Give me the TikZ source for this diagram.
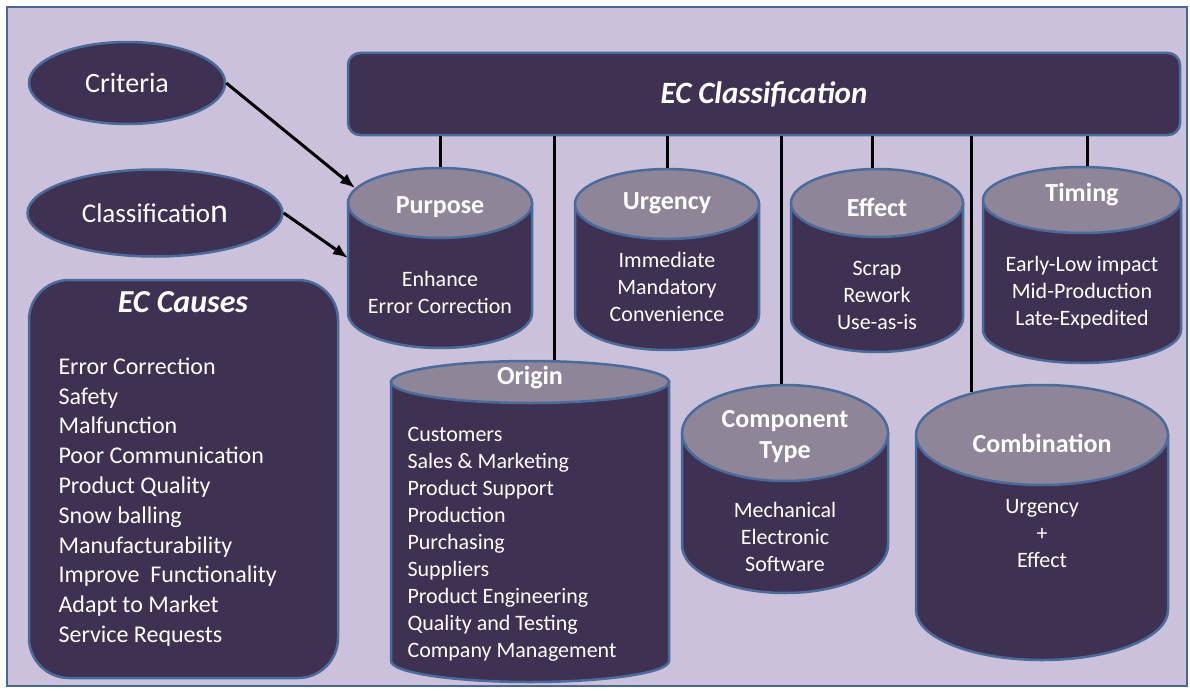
\documentclass[tikz,border=0pt]{standalone}
\usepackage{fontspec}
\setmainfont{Carlito}
\usepackage{tikz}
\usetikzlibrary{shapes.geometric,arrows.meta}
\definecolor{lavender}{HTML}{CCC1DA}
\definecolor{plum}{HTML}{3F3151}
\definecolor{rim}{HTML}{4A6B9B}
\definecolor{lidgrey}{HTML}{8F8599}
\definecolor{framecol}{HTML}{4A6794}
\tikzset{box/.style={draw=rim, line width=2.5pt, fill=plum, text=white}}
\tikzset{oval/.style={box, ellipse, inner sep=0pt}}
\tikzset{lid/.style={ellipse, draw=rim, line width=2.5pt, fill=lidgrey, inner sep=0pt}}
\tikzset{cyltitle/.style={text=white, font=\fontsize{26}{31}\selectfont\bfseries, align=center}}
\tikzset{items/.style={text=white, font=\fontsize{22}{27}\selectfont, align=center}}
\tikzset{link/.style={line width=3pt}}
\tikzset{arrow/.style={-{Latex[length=15pt,width=12pt]}, line width=3pt}}

\begin{document}
\begin{tikzpicture}[x=1pt, y=-1pt]
  \useasboundingbox (0,0) rectangle (1190,690);
  \draw[draw=framecol, line width=2pt, fill=lavender] (7,7) rectangle (1187,686);

  % left side
  \node[oval, minimum width=196pt, minimum height=82pt, font=\fontsize{28}{34}\selectfont] (criteria) at (127,83) {Criteria};
  \node[oval, minimum width=255pt, minimum height=87pt, font=\fontsize{27}{32}\selectfont] (classification) at (155,213) {Classificatio{\fontsize{34}{34}\selectfont n}};
  \node[box, rounded corners=40pt, minimum width=309pt, minimum height=398pt, inner sep=0pt] (causes) at (183.5,479) {};
  \node[text=white, font=\fontsize{32}{38}\selectfont\bfseries\itshape] (causesttl) at (183,302) {EC Causes};
  \node[text=white, anchor=west, align=left, font=\fontsize{24}{29.8}\selectfont] (causeslist) at (55,502)
    {Error Correction\\Safety\\Malfunction\\Poor Communication\\Product Quality\\Snow balling\\Manufacturability\\Improve\ \ Functionality\\Adapt to Market\\Service Requests};

  % banner
  \node[box, rounded corners=12pt, minimum width=832pt, minimum height=82pt, font=\fontsize{31}{37}\selectfont\bfseries\itshape] (banner) at (764,94) {EC Classification};

  % purpose
  \draw[box] (348,203) -- (348,313) arc[start angle=180, end angle=0, x radius=92, y radius=35] -- (532,203) -- cycle;
  \node[lid, minimum width=184pt, minimum height=70pt] (purpose) at (440,203) {};
  \node[cyltitle] (purposettl) at (440,207) {Purpose};
  \node[items] (purposetxt) at (440,292) {Enhance\\Error Correction};

  % urgency
  \draw[box] (575,204) -- (575,315) arc[start angle=180, end angle=0, x radius=92, y radius=35] -- (759,204) -- cycle;
  \node[lid, minimum width=184pt, minimum height=70pt] (urgency) at (667,204) {};
  \node[cyltitle] (urgencyttl) at (667,203) {Urgency};
  \node[items] (urgencytxt) at (667,287) {Immediate\\Mandatory\\Convenience};

  % effect
  \draw[box] (791,203) -- (791,318) arc[start angle=180, end angle=0, x radius=86, y radius=34] -- (963,203) -- cycle;
  \node[lid, minimum width=172pt, minimum height=68pt] (effect) at (877,203) {};
  \node[cyltitle] (effectttl) at (877,207) {Effect};
  \node[items] (effecttxt) at (877,295) {Scrap\\Rework\\Use-as-is};

  % timing
  \draw[box] (983,200) -- (983,330) arc[start angle=180, end angle=0, x radius=99, y radius=33] -- (1181,200) -- cycle;
  \node[lid, minimum width=198pt, minimum height=66pt] (timing) at (1082,200) {};
  \node[cyltitle] (timingttl) at (1082,195) {Timing};
  \node[items] (timingtxt) at (1082,293) {Early-Low impact\\Mid-Production\\Late-Expedited};

  % origin
  \draw[box] (391,382) -- (391,661) arc[start angle=180, end angle=0, x radius=139, y radius=21] -- (669,382) -- cycle;
  \node[lid, minimum width=278pt, minimum height=42pt] (origin) at (530,382) {};
  \node[cyltitle] (originttl) at (530,378) {Origin};
  \node[items, anchor=west, align=left] (origintxt) at (404,544)
    {Customers\\Sales \& Marketing\\Product Support\\Production\\Purchasing\\Suppliers\\Product Engineering\\Quality and Testing\\Company Management};

  % component type
  \draw[box] (682,433) -- (682,545) arc[start angle=180, end angle=0, x radius=103, y radius=48] -- (888,433) -- cycle;
  \node[lid, minimum width=206pt, minimum height=96pt] (component) at (785,433) {};
  \node[cyltitle] (componentttl) at (785,437) {Component\\Type};
  \node[items] (componenttxt) at (785,537) {Mechanical\\Electronic\\Software};

  % combination
  \draw[box] (916,435) -- (916,610) arc[start angle=180, end angle=0, x radius=126, y radius=50] -- (1168,435) -- cycle;
  \node[lid, minimum width=252pt, minimum height=100pt] (combination) at (1042,435) {};
  \node[cyltitle] (combinationttl) at (1042,443) {Combination};
  \node[items] (combinationtxt) at (1042,534) {Urgency\\+\\Effect};

  % banner links
  \draw[link] (purpose.north) -- (purpose.north |- banner.south);
  \draw[link] (origin.42) -- (origin.42 |- banner.south);
  \draw[link] (urgency.north) -- (urgency.north |- banner.south);
  \draw[link] (component.94) -- (component.94 |- banner.south);
  \draw[link] (effect.98) -- (effect.98 |- banner.south);
  \draw[link] (combination.149) -- (combination.149 |- banner.south);
  \draw[link] (timing.81) -- (timing.81 |- banner.south);

  % arrows
  \coordinate (purposeside) at (348,258);
  \draw[arrow] (criteria.east) -- (purpose.170);
  \draw[arrow] (classification.east) -- (purposeside);
\end{tikzpicture}
\end{document}
